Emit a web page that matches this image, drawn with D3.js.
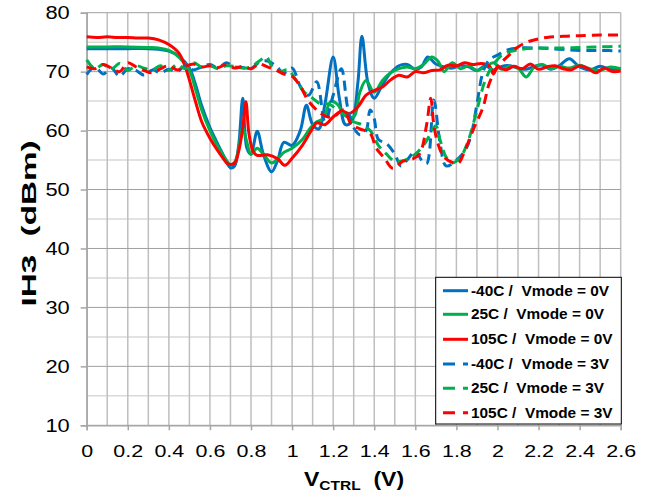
<!DOCTYPE html>
<html><head><meta charset="utf-8">
<script src="https://cdn.jsdelivr.net/npm/d3@7"></script>
<style>
html,body{margin:0;padding:0;background:#fff;}
svg{display:block;font-family:"Liberation Sans",Arial,sans-serif;}
</style></head>
<body><svg id="c" width="650" height="492"></svg>
<script>
// ---- data ----
const xTicks = [0,0.2,0.4,0.6,0.8,1,1.2,1.4,1.6,1.8,2,2.2,2.4,2.6];
const yTicks = [10,20,30,40,50,60,70,80];
const seriesNames = ["-40C /  Vmode = 0V","25C /  Vmode = 0V","105C /  Vmode = 0V","-40C /  Vmode = 3V","25C /  Vmode = 3V","105C /  Vmode = 3V"];
const seriesColors = ["#0070C0","#00B050","#FF0000","#0070C0","#00B050","#FF0000"];
const seriesDashed = [false,false,false,true,true,true];

const vBlue0 = [0,0.1,0.2,0.3,0.35,0.4,0.45,0.5,0.53,0.56,0.6,0.63,0.66,0.7,0.72,0.74,0.76,0.78,0.8,0.83,0.86,0.9,0.93,0.96,1.0,1.04,1.07,1.1,1.13,1.16,1.2,1.23,1.26,1.29,1.32,1.34,1.37,1.4,1.44,1.48,1.52,1.56,1.6,1.63,1.66,1.7,1.74,1.78,1.82,1.86,1.9,1.94,1.98,2.02,2.06,2.1,2.14,2.18,2.22,2.26,2.3,2.35,2.4,2.45,2.5,2.55,2.6];
const dBlue0 = [73.9,73.9,73.9,73.9,73.8,73.5,72.6,70.6,67.8,64.2,60.5,58.3,56.2,53.7,54.0,57.5,65.5,57.0,56.0,59.9,56.0,53.0,55.0,58.0,57.5,60.0,64.3,61.0,60.3,64.5,72.5,65.5,61.0,61.5,68.0,76.0,68.0,65.5,67.8,69.8,71.0,71.2,70.4,70.8,72.5,71.3,70.8,70.6,71.1,70.8,70.2,71.0,70.3,70.9,71.0,70.6,70.4,70.9,71.1,70.4,71.0,72.2,70.8,70.3,70.9,70.4,70.5];

const vGreen0 = [0,0.1,0.2,0.3,0.35,0.4,0.45,0.5,0.53,0.56,0.6,0.64,0.68,0.7,0.72,0.74,0.76,0.78,0.8,0.83,0.86,0.9,0.93,0.96,1.0,1.05,1.09,1.12,1.15,1.19,1.22,1.25,1.3,1.33,1.36,1.4,1.44,1.48,1.52,1.56,1.6,1.64,1.68,1.71,1.74,1.78,1.82,1.86,1.9,1.94,1.98,2.02,2.06,2.1,2.14,2.18,2.22,2.26,2.3,2.35,2.4,2.45,2.5,2.55,2.6];
const dGreen0 = [74.2,74.2,74.2,74.1,74.0,73.6,72.4,70.2,67.0,63.5,60.0,57.2,55.0,54.2,54.6,57.0,60.5,58.0,56.0,57.0,56.0,54.5,55.2,56.3,57.0,58.5,60.5,61.5,62.0,65.0,64.5,63.0,62.3,66.5,68.5,66.5,68.5,69.8,70.5,70.8,70.5,71.2,72.5,71.8,70.0,71.5,70.5,71.0,70.2,70.8,71.5,70.4,70.9,70.6,69.1,70.8,71.2,70.5,70.9,70.6,71.1,70.5,70.2,70.8,70.5];

const vRed0 = [0,0.05,0.1,0.15,0.2,0.25,0.3,0.35,0.4,0.45,0.48,0.5,0.53,0.56,0.6,0.63,0.66,0.69,0.72,0.74,0.76,0.775,0.79,0.81,0.83,0.88,0.93,0.965,1.0,1.05,1.09,1.12,1.16,1.2,1.24,1.28,1.32,1.36,1.4,1.44,1.48,1.52,1.56,1.6,1.64,1.68,1.72,1.76,1.8,1.84,1.88,1.92,1.96,1.98,2.0,2.04,2.08,2.12,2.16,2.2,2.24,2.28,2.32,2.36,2.4,2.44,2.48,2.52,2.56,2.6];
const dRed0 = [75.9,75.8,75.9,75.8,75.8,75.7,75.7,75.4,74.6,73.1,70.8,68.6,64.9,61.5,58.7,57.0,55.5,54.3,54.5,56.5,60.5,64.9,59.5,56.5,55.8,55.9,55.2,54.1,55.3,57.5,59.8,61.3,61.0,62.3,63.3,62.9,64.0,66.0,66.8,67.4,68.6,69.4,69.1,70.0,69.8,70.2,70.3,71.1,71.0,71.5,71.2,71.4,71.0,69.6,70.8,70.3,70.9,70.5,71.3,70.4,70.8,71.0,70.5,70.3,71.0,70.5,69.8,70.6,70.0,70.1];

const vBlue3 = [0,0.04,0.08,0.12,0.16,0.2,0.24,0.28,0.32,0.36,0.4,0.44,0.48,0.52,0.56,0.6,0.64,0.68,0.72,0.76,0.8,0.84,0.88,0.92,0.96,1.0,1.04,1.08,1.12,1.16,1.2,1.24,1.27,1.3,1.33,1.36,1.38,1.4,1.42,1.46,1.5,1.53,1.56,1.6,1.63,1.655,1.69,1.72,1.75,1.8,1.84,1.87,1.9,1.93,1.96,2.0,2.05,2.1,2.2,2.3,2.4,2.5,2.6];
const dBlue3 = [69.5,70.8,69.6,70.6,69.2,70.5,70.2,69.4,70.3,69.8,70.4,70.0,71.0,70.3,70.8,71.2,70.6,71.5,70.8,70.7,70.5,71.6,71.8,71.0,69.8,70.6,67.5,66.0,68.3,61.5,66.0,70.5,64.0,60.5,59.3,60.0,63.5,62.0,58.5,57.8,56.0,54.0,55.0,56.5,55.0,54.4,65.2,58.0,54.0,55.0,56.5,59.0,64.5,70.0,72.0,72.8,73.7,74.0,74.0,73.8,73.6,73.6,73.5];

const vGreen3 = [0,0.04,0.08,0.12,0.16,0.2,0.24,0.28,0.32,0.36,0.4,0.44,0.48,0.52,0.56,0.6,0.64,0.68,0.72,0.76,0.8,0.84,0.875,0.9,0.94,0.98,1.02,1.06,1.1,1.14,1.18,1.22,1.26,1.3,1.34,1.38,1.42,1.46,1.5,1.55,1.6,1.65,1.7,1.72,1.75,1.78,1.82,1.86,1.9,1.94,1.98,2.03,2.1,2.2,2.3,2.4,2.5,2.6];
const dGreen3 = [72.0,70.5,71.2,70.4,71.4,70.2,71.0,70.6,70.3,71.0,70.2,71.2,70.5,71.5,70.8,71.0,70.5,71.0,70.9,70.6,70.8,71.8,72.5,71.0,70.0,70.3,68.5,66.5,65.5,64.5,64.5,63.5,62.5,61.5,61.0,60.0,57.5,56.0,54.8,55.0,56.0,58.0,60.8,58.5,55.5,54.5,55.5,58.5,63.5,68.5,71.2,73.0,73.7,74.0,74.0,74.1,74.2,74.3];

const vRed3 = [0,0.04,0.08,0.12,0.16,0.2,0.24,0.28,0.32,0.36,0.4,0.44,0.48,0.52,0.56,0.6,0.64,0.68,0.72,0.76,0.8,0.84,0.88,0.92,0.96,1.0,1.04,1.08,1.12,1.16,1.2,1.25,1.29,1.33,1.38,1.41,1.45,1.49,1.54,1.58,1.62,1.655,1.675,1.69,1.71,1.74,1.78,1.81,1.84,1.88,1.93,1.96,2.0,2.05,2.1,2.16,2.24,2.32,2.4,2.5,2.6];
const dRed3 = [70.8,70.5,71.2,70.6,70.0,71.5,70.8,70.2,69.8,70.5,71.0,70.3,70.9,71.3,70.8,71.0,70.7,71.2,70.6,70.9,70.5,71.3,70.8,70.3,69.6,69.2,67.5,65.0,63.5,62.5,62.3,63.5,61.0,60.3,59.5,57.0,55.3,53.6,54.8,55.1,56.0,61.0,65.5,61.0,57.8,55.5,54.6,54.5,56.5,60.0,64.0,68.0,70.8,72.6,74.2,75.2,75.8,76.0,76.1,76.2,76.2];

const seriesV = [vBlue0,vGreen0,vRed0,vBlue3,vGreen3,vRed3];
const seriesD = [dBlue0,dGreen0,dRed0,dBlue3,dGreen3,dRed3];

// ---- chart ----
const svg = d3.select("#c");
const L = 86.7, R = 620.7, T = 12.7, B = 425.3;
const x = d3.scaleLinear().domain([0,2.6]).range([L,R]);
const y = d3.scaleLinear().domain([10,80]).range([B,T]);

const grid = svg.append("g");
d3.range(15,80,10).forEach(v=>{
  grid.append("line").attr("x1",L).attr("x2",R).attr("y1",y(v)).attr("y2",y(v))
    .attr("stroke","#d9d9d9").attr("stroke-width",1.5);
});
d3.range(0,27).forEach(i=>{
  const v=i/10;
  grid.append("line").attr("x1",x(v)).attr("x2",x(v)).attr("y1",T).attr("y2",B)
    .attr("stroke","#bfbfbf").attr("stroke-width",1.5);
});
yTicks.forEach(v=>{
  grid.append("line").attr("x1",L).attr("x2",R).attr("y1",y(v)).attr("y2",y(v))
    .attr("stroke","#a0a0a0").attr("stroke-width",1);
});

// axes
const yAx = svg.append("g").attr("transform",`translate(${L},0)`)
  .call(d3.axisLeft(y).tickValues(yTicks).tickSize(6).tickPadding(8.8).tickFormat(d3.format("d")));
yAx.select(".domain").attr("stroke","#a6a6a6").attr("stroke-width",1.5);
yAx.selectAll(".tick line").attr("stroke","#a6a6a6").attr("stroke-width",1.5);
yAx.selectAll("text").attr("font-size",19).attr("fill","#000")
  .attr("font-family","Liberation Sans, Arial, sans-serif").attr("transform","scale(1.15,1)");

const xAx = svg.append("g").attr("transform",`translate(0,${B})`)
  .call(d3.axisBottom(x).tickValues(xTicks).tickSize(5).tickPadding(14.5).tickFormat(d=>String(+d.toFixed(1))));
xAx.select(".domain").attr("stroke","#a6a6a6").attr("stroke-width",1.5);
xAx.selectAll(".tick line").attr("stroke","#a6a6a6").attr("stroke-width",1.5);
xAx.selectAll("text").attr("font-size",16.5).attr("fill","#000")
  .attr("font-family","Liberation Sans, Arial, sans-serif").attr("transform","scale(1.3,1)");

// lines
const plot = svg.append("g");
seriesV.forEach((vs,i)=>{
  const pts = vs.map((v,j)=>[v, seriesD[i][j]]);
  const line = d3.line().x(d=>x(d[0])).y(d=>y(d[1])).curve(d3.curveCatmullRom.alpha(0.5));
  plot.append("path").attr("d",line(pts)).attr("fill","none")
    .attr("stroke",seriesColors[i]).attr("stroke-width",3)
    .attr("stroke-linejoin","round")
    .attr("stroke-dasharray", seriesDashed[i] ? "10,6" : null);
});

// axis titles
svg.append("text").attr("transform",`translate(36,223.5) rotate(-90)`)
  .attr("text-anchor","middle").attr("font-size",21).attr("font-weight","bold")
  .attr("textLength",166).attr("lengthAdjust","spacingAndGlyphs")
  .style("white-space","pre").text("IH3  (dBm)");
const xt = svg.append("text").attr("transform","translate(354,486) scale(1.15,1)")
  .attr("text-anchor","middle").attr("font-weight","bold").style("white-space","pre");
xt.append("tspan").attr("font-size",20).text("V");
xt.append("tspan").attr("font-size",13.5).attr("dy",4).text("CTRL");
xt.append("tspan").attr("font-size",20).attr("dy",-4).text("  (V)");

// legend
const lg = svg.append("g");
lg.append("rect").attr("x",435.7).attr("y",277.3).attr("width",185.6).attr("height",146.7)
  .attr("fill","#fff").attr("stroke","#000").attr("stroke-width",1);
const rowY = [290.7,314.3,339.3,364,388.3,412.7];
seriesNames.forEach((n,i)=>{
  lg.append("line").attr("x1",443).attr("x2",468).attr("y1",rowY[i]).attr("y2",rowY[i])
    .attr("stroke",seriesColors[i]).attr("stroke-width",3)
    .attr("stroke-dasharray", seriesDashed[i] ? "12,8" : null);
  lg.append("text").attr("transform",`translate(471,${rowY[i]}) scale(1.1,1)`).attr("dy","0.36em")
    .attr("font-size",14).attr("font-weight","bold").style("white-space","pre").text(n);
});
</script></body></html>
